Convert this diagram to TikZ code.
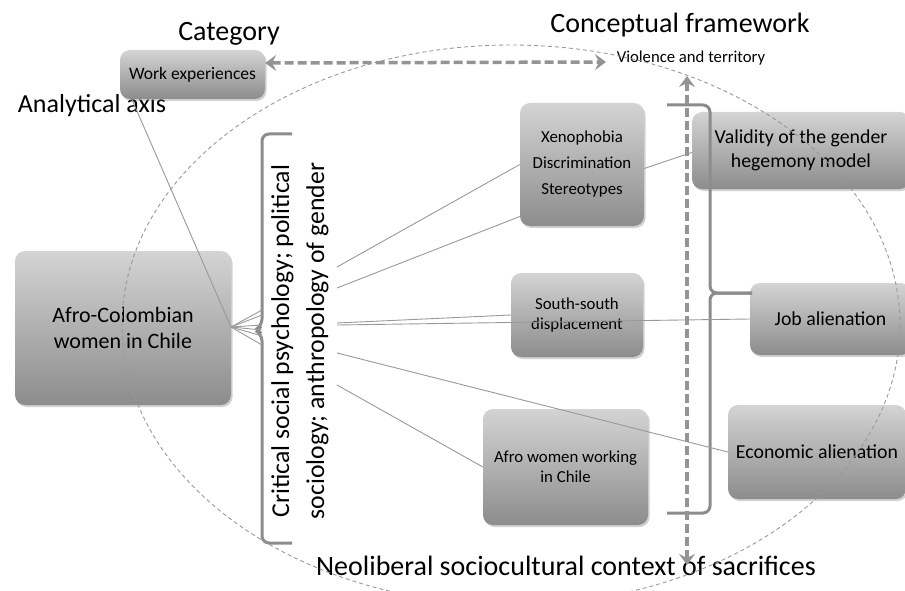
\documentclass[tikz,border=0pt]{standalone}
\usepackage{fontspec}
\setmainfont{Carlito}
\usetikzlibrary{arrows.meta,shadows,calc}
\begin{document}
\begin{tikzpicture}[x=1pt,y=-1pt,
  gbox/.style={rounded corners=10pt, top color=black!17, bottom color=black!45,
    draw=none, inner sep=0pt, align=center,
    drop shadow={shadow xshift=1.5pt,shadow yshift=-2pt,opacity=.3,fill=black!60}},
  conn/.style={draw=black!40, line width=0.9pt},
  brace/.style={draw=black!45, line width=3pt, rounded corners=7pt},
  darrow/.style={draw=black!42, line width=3.5pt, dash pattern=on 9pt off 4pt,
    {Stealth[length=11pt,width=16pt,inset=4pt]}-{Stealth[length=11pt,width=16pt,inset=4pt]}},
  title/.style={font=\fontsize{28}{34}\selectfont, inner sep=0pt, anchor=base},
  small/.style={font=\fontsize{16.8}{26}\selectfont},
  mid/.style={font=\fontsize{16.8}{20}\selectfont},
  big/.style={font=\fontsize{19.8}{24}\selectfont},
]
\useasboundingbox (0,0) rectangle (905,591);

% titles
\node[title] (cat) at (229,41) {Category};
\node[title] (cf) at (680,33) {Conceptual framework};
\node[title, font=\fontsize{26}{30}\selectfont] (axis) at (92,113) {Analytical axis};
\node[title] (neo) at (566,575) {Neoliberal sociocultural context of sacrifices};
\node[inner sep=0pt, anchor=base, font=\fontsize{16.7}{20}\selectfont] (vt) at (691,63) {Violence and territory};

% boxes
\node[gbox, minimum width=145pt, minimum height=49pt, font=\fontsize{17.5}{21}\selectfont] (work) at (192.5,74.5) {Work experiences};
\node[gbox, minimum width=216pt, minimum height=154pt, font=\fontsize{22}{26}\selectfont] (afro) at (123,328) {Afro-Colombian\\women in Chile};
\node[gbox, small, minimum width=124pt, minimum height=123pt] (xeno) at (582,164.5) {Xenophobia\\Discrimination\\Stereotypes};
\node[gbox, mid, minimum width=132pt, minimum height=84pt] (south) at (577,315) {South-south\\displacement};
\node[gbox, mid, minimum width=165pt, minimum height=116pt] (afrow) at (565.5,467) {Afro women working\\in Chile};
\node[gbox, big, minimum width=218pt, minimum height=77pt] (valid) at (801,150.5) {Validity of the gender\\hegemony model};
\node[gbox, big, minimum width=161pt, minimum height=72pt] (job) at (830.5,319) {Job alienation};
\node[gbox, big, minimum width=178pt, minimum height=94pt] (econ) at (817,452) {Economic alienation};

% rotated analytical axis text
\node[rotate=90, align=center, inner sep=0pt, font=\fontsize{25.7}{35}\selectfont] (crit) at (300,341)
  {Critical social psychology; political\\sociology; anthropology of gender};

% braces
\draw[brace] (292,134) -- (262,134) -- (262,326) -- (255,330) -- (262,334) -- (262,543) -- (292,543);
\draw[brace] (667,105) -- (710,105) -- (710,293) -- (752,293);
\draw[brace] (752,293) -- (710,293) -- (710,513) -- (667,513);

% coordinates
\coordinate (f0) at (231,327);
\coordinate (l1) at (262,310);
\coordinate (l2) at (262,315);
\coordinate (l3) at (262,325);
\coordinate (l4) at (262,330);
\coordinate (l5) at (262,336);
\coordinate (l6) at (262,345);
\coordinate (r1) at (337,267);
\coordinate (r2) at (337,288);
\coordinate (r3) at (337,323);
\coordinate (r4) at (337,325);
\coordinate (r5) at (337,353);
\coordinate (r6) at (337,385);
\coordinate (vtop) at (687,76);
\coordinate (vbot) at (687,565);

% connectors
\foreach \i in {1,...,6} {\draw[conn] (f0) -- (l\i);}
\draw[conn] ($(work.south west)+(12,0)$) -- (f0);
\draw[conn] (r1) -- (xeno.west);
\draw[conn] (r2) -- ($(xeno.west)+(0,52)$);
\draw[conn] (r3) -- (south.west);
\draw[conn] (r4) -- (job.west);
\draw[conn] (r5) -- (econ.west);
\draw[conn] (r6) -- (afrow.west);
\draw[conn] ($(xeno.east)+(0,4)$) -- ($(valid.west)+(0,2)$);

% dashed arrows
\draw[darrow] (work.east |- 0,63) -- (606,62);
\draw[darrow] (vtop) -- (vbot);

% ellipse
\draw[black!40, line width=0.9pt, dash pattern=on 4pt off 3pt] (511,325) ellipse [x radius=389, y radius=280];
\end{tikzpicture}
\end{document}
